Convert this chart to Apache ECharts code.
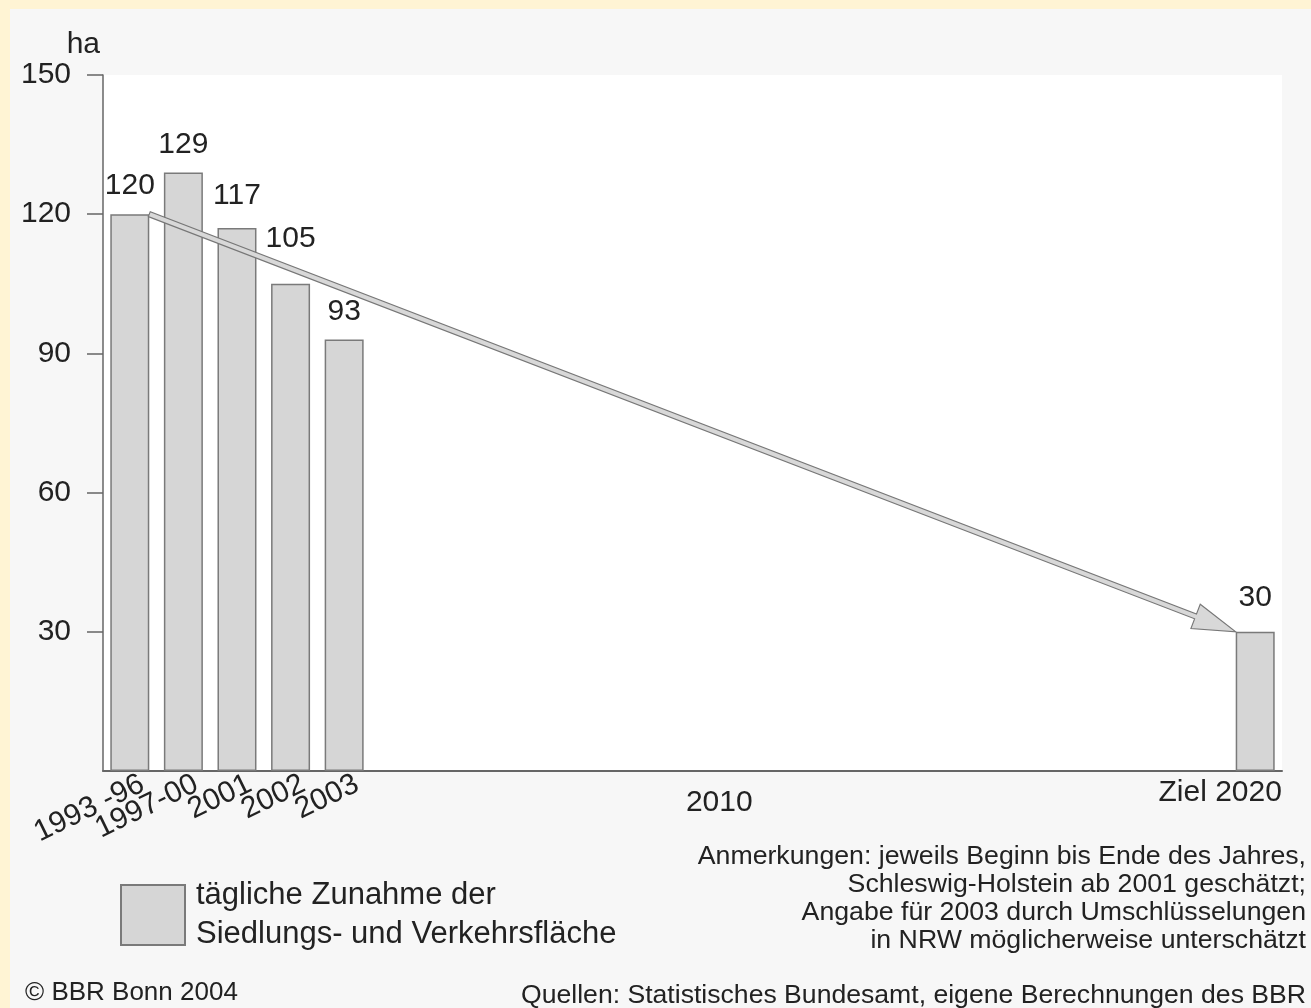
<!DOCTYPE html>
<html>
<head>
<meta charset="utf-8">
<script src="https://cdn.jsdelivr.net/npm/echarts@6/dist/echarts.min.js"></script>
<style>
  html, body { margin: 0; padding: 0; background: #fff4d4; }
  #chart { position: absolute; left: 10px; top: 9px; width: 1301px; height: 999px; }
</style>
</head>
<body>
<div id="chart"></div>
<script>
// slots along the x axis, one per year up to the target 2020
var categories = ['1993 -96', '1997-00', '2001', '2002', '2003',
  '2004', '2005', '2006', '2007', '2008', '2009', '2010',
  '2011', '2012', '2013', '2014', '2015', '2016', '2017', '2018', '2019', 'Ziel 2020'];

// tägliche Zunahme in ha
var barCats = ['1993 -96', '1997-00', '2001', '2002', '2003', 'Ziel 2020'];
var barValues = [120, 129, 117, 105, 93, 30];

var rotatedLabels = ['1993 -96', '1997-00', '2001', '2002', '2003'];
var flatLabels = ['2010', 'Ziel 2020'];

var yTicks = [0, 30, 60, 90, 120, 150];

var seriesName = 'tägliche Zunahme der\nSiedlungs- und Verkehrsfläche';
var notes = [
  'Anmerkungen: jeweils Beginn bis Ende des Jahres,',
  'Schleswig-Holstein ab 2001 geschätzt;',
  'Angabe für 2003 durch Umschlüsselungen',
  'in NRW möglicherweise unterschätzt'
];
var sourceText = 'Quellen: Statistisches Bundesamt, eigene Berechnungen des BBR';
var copyText = '© BBR Bonn 2004';

// label spacing above some bars (the arrow passes close by)
var labelDistance = { '2001': 17, '2002': 30, 'Ziel 2020': 19 };

var FONT = 'Liberation Sans, Arial, Helvetica, sans-serif';
var TXT = '#222';
var AX = '#666';

var chart = echarts.init(document.getElementById('chart'));

var gridLeft = 93, gridRight = 29;
var barWidth = 39;
var slotPx = (1301 - gridLeft - gridRight) / categories.length;
var edge = (barWidth / 2) / slotPx;

var barData = categories.map(function (c) {
  var i = barCats.indexOf(c);
  if (i < 0) return null;
  var item = { value: barValues[i] };
  if (labelDistance[c] != null) item.label = { distance: labelDistance[c] };
  return item;
});

// trend arrow: from the top right corner of the first bar to the top left of the target bar
var firstIdx = categories.indexOf(barCats[0]);
var lastIdx = categories.indexOf(barCats[barCats.length - 1]);
var arrowStart = [firstIdx + edge, barValues[0]];
var arrowEnd = [lastIdx - edge, barValues[barValues.length - 1]];

function renderArrow(params, api) {
  var p0 = api.coord([api.value(0), api.value(1)]);
  var p1 = api.coord([api.value(2), api.value(3)]);
  var dx = p1[0] - p0[0], dy = p1[1] - p0[1];
  var len = Math.sqrt(dx * dx + dy * dy);
  var ux = dx / len, uy = dy / len;
  var nx = -uy, ny = ux;
  var headL = 43, headW = 13, bodyW = 2.6;
  var bx = p1[0] - ux * headL, by = p1[1] - uy * headL;
  var pts = [
    [p0[0] + nx * bodyW, p0[1] + ny * bodyW],
    [bx + nx * bodyW, by + ny * bodyW],
    [bx + nx * headW, by + ny * headW],
    [p1[0], p1[1]],
    [bx - nx * headW, by - ny * headW],
    [bx - nx * bodyW, by - ny * bodyW],
    [p0[0] - nx * bodyW, p0[1] - ny * bodyW]
  ];
  return {
    type: 'polygon',
    shape: { points: pts },
    style: { fill: '#d8d8d8', stroke: '#777', lineWidth: 1.1, lineJoin: 'miter' }
  };
}

var option = {
  backgroundColor: '#f7f7f7',
  animation: false,
  textStyle: { fontFamily: FONT, color: TXT },
  grid: {
    left: gridLeft, right: gridRight, top: 66, bottom: 237,
    show: true, backgroundColor: '#ffffff', borderWidth: 0
  },
  legend: {
    data: [seriesName],
    left: 110, top: 867,
    padding: 0,
    icon: 'rect',
    itemWidth: 64, itemHeight: 60,
    selectedMode: false,
    textStyle: { fontSize: 31, lineHeight: 39, color: TXT, fontFamily: FONT, padding: [0, 0, 0, 6] }
  },
  xAxis: [
    {
      type: 'category',
      data: categories,
      position: 'bottom',
      axisLine: { show: true, onZero: false, lineStyle: { color: AX, width: 2 } },
      axisTick: { show: false },
      axisLabel: {
        interval: 0, rotate: 26, margin: 1, verticalAlign: 'top',
        padding: [0, -7, 0, 0],
        fontSize: 30, color: TXT, fontFamily: FONT,
        formatter: function (v) { return rotatedLabels.indexOf(v) >= 0 ? v : ''; }
      }
    },
    {
      type: 'category',
      data: categories,
      position: 'bottom',
      axisLine: { show: false, onZero: false },
      axisTick: { show: false },
      axisLabel: {
        interval: 0, margin: 7,
        fontSize: 30, color: TXT, fontFamily: FONT,
        formatter: function (v) {
          if (v === flatLabels[0]) return '{a|' + v + '}';
          if (v === flatLabels[1]) return '{b|' + v + '}';
          return '';
        },
        rich: {
          a: { fontSize: 30, color: TXT, fontFamily: FONT, padding: [10, 0, 0, 0] },
          b: { fontSize: 30, color: TXT, fontFamily: FONT, padding: [0, 70, 0, 0] }
        }
      }
    },
    {
      type: 'value',
      min: -0.5, max: categories.length - 0.5,
      show: false
    }
  ],
  yAxis: {
    type: 'value',
    min: yTicks[0], max: yTicks[yTicks.length - 1], interval: yTicks[1] - yTicks[0],
    name: 'ha',
    nameLocation: 'end',
    nameGap: 14,
    nameTextStyle: { fontSize: 30, color: TXT, fontFamily: FONT, align: 'right', padding: [0, 3, 0, 0] },
    axisLine: { show: true, onZero: false, lineStyle: { color: AX, width: 1.5 } },
    axisTick: { show: true, length: 16, lineStyle: { color: AX, width: 1.5 } },
    splitLine: { show: false },
    axisLabel: {
      showMinLabel: false, margin: 32,
      fontSize: 30, color: TXT, fontFamily: FONT
    }
  },
  series: [
    {
      name: seriesName,
      type: 'bar',
      xAxisIndex: 0,
      barWidth: barWidth,
      data: barData,
      itemStyle: { color: '#d6d6d6', borderColor: '#7a7a7a', borderWidth: 1.5 },
      label: { show: true, position: 'top', distance: 13, fontSize: 30, color: TXT, fontFamily: FONT },
      emphasis: { disabled: true }
    },
    {
      type: 'custom',
      xAxisIndex: 2,
      yAxisIndex: 0,
      silent: true,
      clip: false,
      z: 5,
      data: [[arrowStart[0], arrowStart[1], arrowEnd[0], arrowEnd[1]]],
      encode: { x: [0, 2], y: [1, 3] },
      renderItem: renderArrow
    }
  ],
  graphic: [
    {
      type: 'text', right: 5, top: 834,
      style: { text: notes.join('\n'), font: '26.7px ' + FONT, fill: TXT, textAlign: 'right', lineHeight: 28 }
    },
    {
      type: 'text', right: 5, top: 973,
      style: { text: sourceText, font: '26.6px ' + FONT, fill: TXT, lineHeight: 28 }
    },
    {
      type: 'text', left: 15, top: 970,
      style: { text: copyText, font: '26px ' + FONT, fill: TXT, lineHeight: 28 }
    }
  ]
};

chart.setOption(option);
</script>
</body>
</html>
